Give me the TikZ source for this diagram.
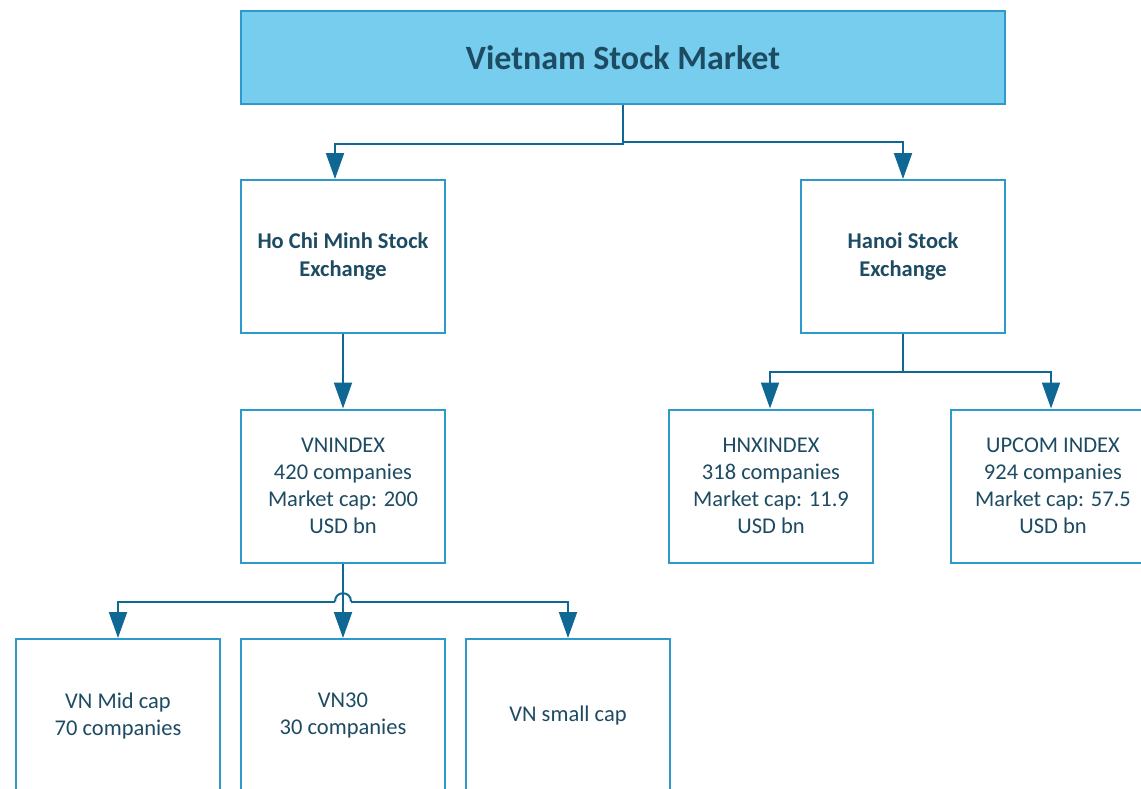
\documentclass[tikz,border=0pt]{standalone}
\usepackage{fontspec}
\setmainfont{Carlito}
\usetikzlibrary{arrows.meta}
\definecolor{bx}{HTML}{2E9ACB}
\definecolor{ar}{HTML}{0F6794}
\definecolor{tx}{HTML}{1D4B62}
\definecolor{fl}{HTML}{76CDEE}
\begin{document}
\begin{tikzpicture}[x=1pt,y=-1pt,
  box/.style={draw=bx,line width=2pt,fill=white,minimum width=204pt,minimum height=153pt,
    align=center,text=tx,font=\fontsize{22.5}{27}\selectfont,inner sep=0pt},
  bbox/.style={box,font=\fontsize{22.5}{28}\selectfont\bfseries},
  conn/.style={draw=ar,line width=2pt,-{Triangle[width=18pt,length=26pt]}},
  plain/.style={draw=ar,line width=2pt}]
\useasboundingbox (0,0) rectangle (1141,788);
\begin{scope}
\clip (0,0) rectangle (1141,788);
\node[box,fill=fl,minimum width=764pt,minimum height=93pt,font=\fontsize{34}{40}\selectfont\bfseries] (top) at (623,57.5) {Vietnam Stock Market};
\node[bbox] (hcm) at (343,256.5) {Ho Chi Minh Stock\\Exchange};
\node[bbox] (hse) at (903,256.5) {Hanoi Stock\\Exchange};
\node[box] (vni) at (343,486) {VNINDEX\\420 companies\\Market cap: 200\\USD bn};
\node[box] (hnx) at (771,486) {HNXINDEX\\318 companies\\Market cap: 11.9\\USD bn};
\node[box] (upc) at (1053,486) {UPCOM INDEX\\924 companies\\Market cap: 57.5\\USD bn};
\node[box] (mid) at (118,715.5) {VN Mid cap\\70 companies};
\node[box] (vn30) at (343,715.5) {VN30\\30 companies};
\node[box] (small) at (568,715.5) {VN small cap};

\draw[conn] (top.south) -- ++(0,39) -| ([xshift=-8pt]hcm.north);
\draw[conn] (top.south) -- ++(0,37) -| (hse.north);
\draw[conn] (hcm) -- (vni);
\draw[conn] (hse.south) -- ++(0,38) -| ([xshift=-1pt]hnx.north);
\draw[conn] (hse.south) -- ++(0,38) -| ([xshift=-2pt]upc.north);
\draw[conn] (vni) -- (vn30);
\path (vni.south) ++(0,38) coordinate (j);
\draw[conn] ([xshift=-8pt]j) -| (mid.north);
\draw[conn] ([xshift=8pt]j) -| (small.north);
\draw[plain] ([xshift=-8pt]j) .. controls ([xshift=-8pt,yshift=11pt]j) and ([xshift=8pt,yshift=11pt]j) .. ([xshift=8pt]j);
\end{scope}
\end{tikzpicture}
\end{document}
